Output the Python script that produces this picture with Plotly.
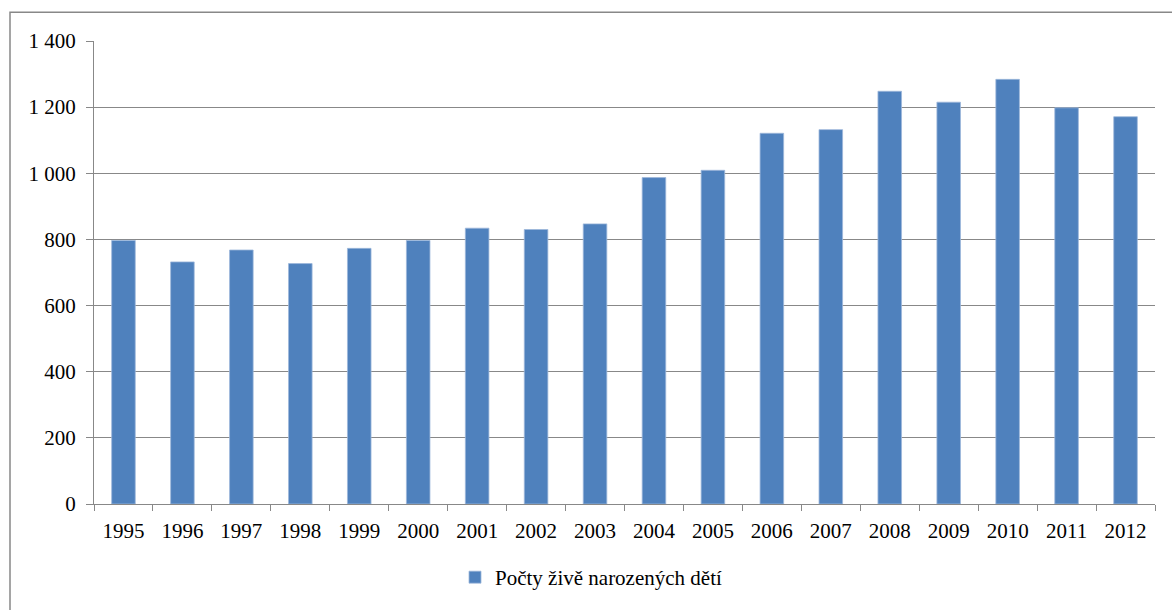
import plotly.graph_objects as go

years = ["1995", "1996", "1997", "1998", "1999", "2000", "2001", "2002", "2003",
         "2004", "2005", "2006", "2007", "2008", "2009", "2010", "2011", "2012"]
births = [797, 732, 768, 727, 773, 797, 834, 830, 847,
          987, 1009, 1121, 1132, 1248, 1215, 1284, 1198, 1171]
series_name = "Počty živě narozených dětí"
y_ticks = [0, 200, 400, 600, 800, 1000, 1200, 1400]

FONT = "Liberation Serif"
FS = 21
GRID = "#888888"

fig = go.Figure()
fig.add_trace(go.Bar(
    x=years, y=births, name=series_name,
    marker=dict(color="#4F81BD", line=dict(color="#9DB7DB", width=0.8)),
    showlegend=True,
))

W, H = 1172, 610
L, R, T, B = 94, 17, 41, 103
pw, ph = W - L - R, H - T - B

def px_x(p):
    return (p - L) / pw

def px_y(p):
    return (H - B - p) / ph

fig.update_layout(
    width=W, height=H,
    margin=dict(l=L, r=R, t=T, b=B),
    paper_bgcolor="white", plot_bgcolor="white",
    font=dict(family=FONT, size=FS, color="#000000"),
    separators=", ",
    bargap=0.6,
    showlegend=True,
    legend=dict(
        orientation="h", x=px_x(591), xanchor="center",
        y=px_y(581), yanchor="middle",
        font=dict(family=FONT, size=FS, color="#000000"),
        itemwidth=30, bgcolor="rgba(0,0,0,0)",
    ),
    xaxis=dict(
        type="category", showgrid=False,
        showline=True, linecolor=GRID, linewidth=1.3,
        ticks="outside", tickson="boundaries", ticklen=6,
        tickcolor=GRID, tickwidth=1.3,
        ticklabelstandoff=8,
        tickfont=dict(family=FONT, size=FS),
    ),
    yaxis=dict(
        range=[0, 1400], tickvals=y_ticks, tickformat=",d",
        showgrid=True, gridcolor=GRID, gridwidth=1.3,
        showline=True, linecolor=GRID, linewidth=1.3,
        ticks="outside", ticklen=7, tickcolor=GRID, tickwidth=1.3,
        ticklabelstandoff=6,
        zeroline=False,
        tickfont=dict(family=FONT, size=FS),
    ),
)

# outer chart frame (extends beyond the visible area to the right and bottom)
fig.add_shape(
    type="rect", xref="paper", yref="paper",
    x0=px_x(10), x1=px_x(1190), y0=px_y(640), y1=px_y(12),
    line=dict(color=GRID, width=1.5), fillcolor="rgba(0,0,0,0)", layer="below",
)

fig.write_html("out.html")
